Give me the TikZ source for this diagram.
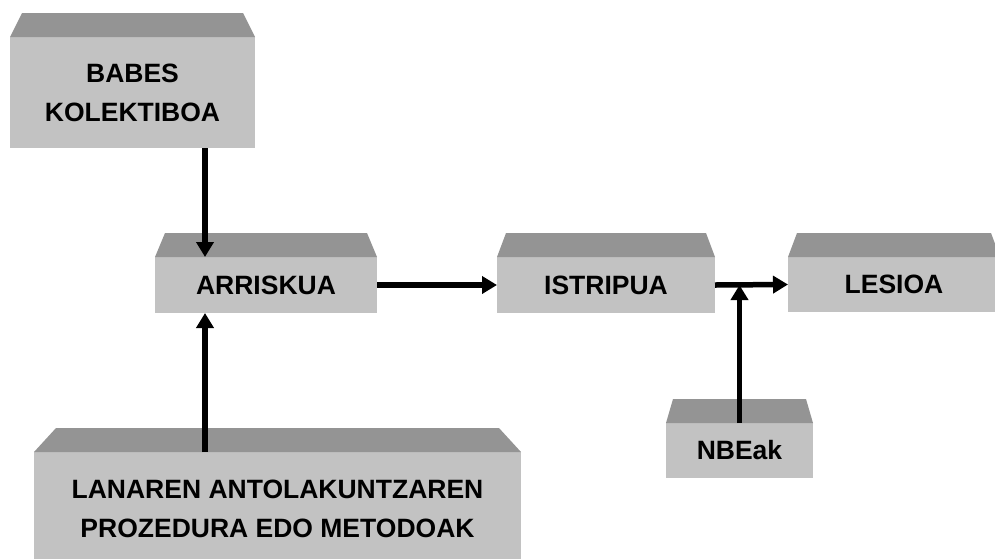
\documentclass[tikz,border=0pt]{standalone}
\usepackage{fontspec}
\setmainfont{Liberation Sans}
\usetikzlibrary{arrows.meta}
\definecolor{boxface}{RGB}{194,194,194}
\definecolor{boxtop}{RGB}{148,148,148}
\tikzset{
  box/.style={fill=boxface, inner sep=0pt, outer sep=0pt, align=center,
    font=\fontsize{26.5}{39}\selectfont\bfseries},
}
% sloped grey top over a box
\newcommand{\boxlid}[2]{%
  \fill[boxtop] (#1.north west) -- ([shift={(#2pt,24pt)}]#1.north west)
    -- ([shift={(-#2pt,24pt)}]#1.north east) -- (#1.north east) -- cycle;}
\begin{document}
\begin{tikzpicture}[x=1pt, y=-1pt, >={Triangle[length=15pt,width=17pt]}, line width=5.5pt]
            \useasboundingbox (0,0) rectangle (995,558);
            \clip (0,0) rectangle (995,558);
            \node[box, minimum width=245pt, minimum height=111pt] (babes) at (132.5,92.5) {BABES\\KOLEKTIBOA};
            \node[box, minimum width=222pt, minimum height=56pt] (arrisk) at (266,285) {ARRISKUA};
            \node[box, minimum width=218pt, minimum height=56pt] (istri) at (606,285) {ISTRIPUA};
            \node[box, minimum width=212pt, minimum height=55pt] (lesio) at (894,284.5) {LESIOA};
            \node[box, minimum width=147pt, minimum height=55pt] (nbe) at (739.5,450.5) {NBEak};
            \node[box, minimum width=487pt, minimum height=114pt] (lanar) at (277.5,509) {LANAREN ANTOLAKUNTZAREN\\PROZEDURA EDO METODOAK};
            \boxlid{babes}{12}
            \boxlid{arrisk}{10}
            \boxlid{istri}{9}
            \boxlid{lesio}{9}
            \boxlid{nbe}{7}
            \boxlid{lanar}{22}
            \coordinate (riskin) at ([xshift=50pt]arrisk.north west);
            \coordinate (riskout) at ([xshift=50pt]arrisk.south west);
            \draw[->] (babes.south -| riskin) -- (riskin);
            \draw[->] (lanar.north -| riskout) -- (riskout);
            \draw[->] (arrisk.east) -- (istri.west);
            \draw[->] (istri.east) -- (lesio.west);
            \draw[->] (nbe.north) -- (nbe.north |- istri.east);
        \end{tikzpicture}
\end{document}
